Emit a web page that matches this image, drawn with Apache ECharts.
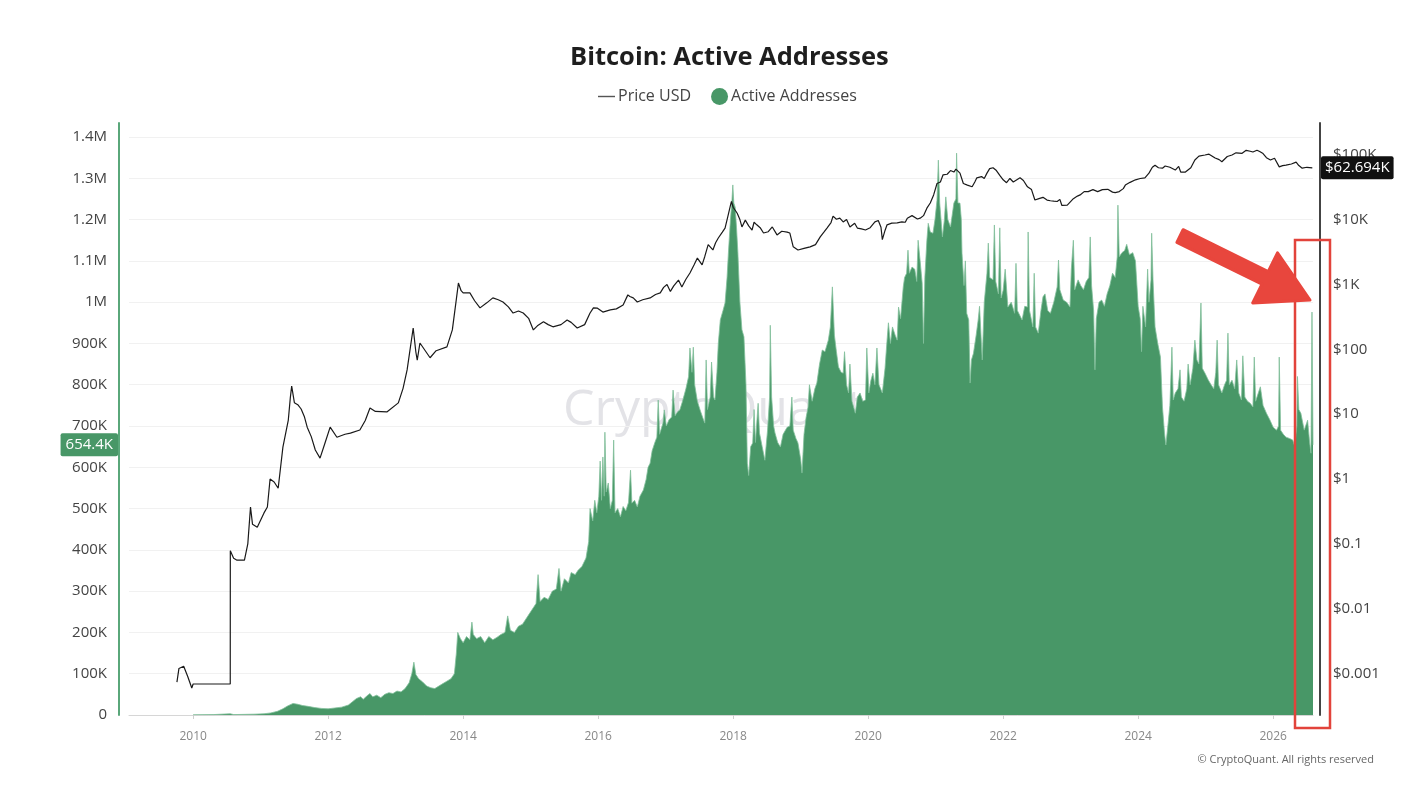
<!DOCTYPE html>
<html>
<head>
<meta charset="utf-8">
<script src="https://cdn.jsdelivr.net/npm/echarts@6/dist/echarts.min.js"></script>
<style>
html,body{margin:0;padding:0;background:#fff;}
#chart{width:1414px;height:790px;}
</style>
</head>
<body>
<div id="chart"></div>
<script>
// ---- data (decimal year, value) ----
const activeAddresses = [
[2010.0,500],[2010.3,1000],[2010.55,3000],[2010.6,1000],[2010.9,2000],[2011.05,3000],[2011.15,5000],[2011.25,9000],[2011.33,15000],[2011.4,22000],[2011.48,28000],[2011.55,26000],[2011.62,23000],[2011.7,21000],[2011.8,18000],[2011.9,16000],[2012.0,15000],[2012.1,17000],[2012.2,19000],[2012.3,24000],[2012.36,32000],[2012.42,40000],[2012.48,44000],[2012.52,38000],[2012.58,47000],[2012.62,52000],[2012.66,44000],[2012.72,48000],[2012.78,42000],[2012.84,50000],[2012.9,54000],[2012.96,52000],[2013.02,58000],[2013.08,56000],[2013.14,64000],[2013.2,78000],[2013.24,100000],[2013.27,128000],[2013.3,98000],[2013.34,88000],[2013.4,80000],[2013.46,70000],[2013.52,66000],[2013.58,64000],[2013.64,70000],[2013.7,76000],[2013.76,82000],[2013.82,88000],[2013.87,100000],[2013.9,150000],[2013.92,200000],[2013.96,185000],[2014.0,175000],[2014.05,190000],[2014.1,182000],[2014.13,225000],[2014.15,195000],[2014.2,185000],[2014.26,190000],[2014.32,175000],[2014.38,190000],[2014.44,182000],[2014.5,188000],[2014.56,195000],[2014.62,200000],[2014.66,240000],[2014.7,205000],[2014.76,200000],[2014.82,215000],[2014.88,220000],[2014.94,235000],[2015.0,250000],[2015.04,260000],[2015.08,270000],[2015.11,340000],[2015.14,275000],[2015.2,285000],[2015.26,280000],[2015.32,300000],[2015.38,305000],[2015.42,355000],[2015.45,300000],[2015.5,330000],[2015.56,320000],[2015.6,345000],[2015.66,340000],[2015.7,350000],[2015.76,360000],[2015.82,380000],[2015.86,420000],
[2015.88,500000],[2015.92,470000],[2015.95,520000],[2015.98,490000],[2016.01,530000],[2016.03,615000],[2016.05,520000],[2016.07,625000],[2016.09,530000],[2016.10,685000],[2016.12,540000],[2016.15,562000],[2016.18,500000],[2016.21,520000],[2016.23,666000],[2016.25,490000],[2016.29,500000],[2016.33,480000],[2016.37,505000],[2016.41,495000],[2016.45,515000],[2016.48,593000],[2016.50,513000],[2016.54,520000],[2016.58,504000],[2016.62,530000],[2016.67,545000],[2016.71,570000],[2016.74,600000],[2016.77,610000],[2016.80,640000],[2016.84,660000],[2016.87,673000],[2016.89,763000],[2016.91,680000],[2016.96,707000],[2016.98,739000],[2017.01,700000],[2017.05,715000],[2017.09,722000],[2017.11,787000],[2017.14,725000],[2017.18,735000],[2017.21,739000],[2017.25,760000],[2017.30,790000],[2017.34,820000],[2017.36,889000],[2017.39,830000],[2017.41,891000],[2017.43,800000],[2017.47,760000],[2017.51,739000],[2017.55,720000],[2017.58,707000],[2017.60,860000],[2017.62,740000],[2017.66,770000],[2017.68,855000],[2017.71,770000],[2017.73,763000],[2017.76,830000],[2017.78,900000],[2017.81,957000],[2017.85,980000],[2017.88,998000],[2017.91,1060000],[2017.93,1120000],[2017.96,1200000],[2017.98,1240000],[2017.995,1284000],[2018.01,1240000],[2018.03,1230000],[2018.05,1180000],[2018.07,1120000],[2018.10,1000000],[2018.13,933000],[2018.16,916000],[2018.19,800000],[2018.21,610000],[2018.23,580000],[2018.26,650000],[2018.29,659000],[2018.31,740000],[2018.33,660000],[2018.37,755000],[2018.39,683000],[2018.43,650000],[2018.47,617000],[2018.51,690000],[2018.54,770000],[2018.55,944000],[2018.57,770000],[2018.60,700000],[2018.62,683000],[2018.66,660000],[2018.70,649000],[2018.74,680000],[2018.80,697000],[2018.84,700000],[2018.87,770000],[2018.89,690000],[2018.93,670000],[2018.96,659000],[2019.00,620000],[2019.02,586000],[2019.05,680000],[2019.08,720000],[2019.11,746000],[2019.13,800000],[2019.17,760000],[2019.21,790000],[2019.24,804000],[2019.28,850000],[2019.32,884000],[2019.36,880000],[2019.41,908000],[2019.44,940000],[2019.47,1037000],[2019.50,920000],[2019.53,880000],[2019.56,843000],[2019.60,830000],[2019.63,828000],[2019.65,880000],[2019.68,800000],[2019.71,780000],[2019.73,850000],[2019.76,760000],[2019.81,731000],[2019.84,770000],[2019.88,780000],[2019.92,760000],[2019.96,763000],[2019.98,889000],[2020.01,780000],[2020.04,810000],[2020.07,828000],[2020.10,800000],[2020.13,889000],[2020.16,800000],[2020.21,780000],[2020.25,840000],[2020.28,908000],[2020.30,950000],[2020.33,900000],[2020.36,940000],[2020.40,920000],[2020.43,908000],[2020.45,988000],[2020.48,960000],[2020.52,1037000],[2020.54,1060000],[2020.57,1070000],[2020.59,1126000],[2020.61,1070000],[2020.65,1085000],[2020.69,1080000],[2020.72,1050000],[2020.74,1150000],[2020.77,1100000],[2020.80,1046000],[2020.82,900000],[2020.84,1060000],[2020.87,1150000],[2020.89,1191000],[2020.92,1170000],[2020.96,1167000],[2020.99,1200000],[2021.02,1247000],[2021.04,1344000],[2021.06,1240000],[2021.10,1158000],[2021.13,1200000],[2021.15,1255000],[2021.18,1200000],[2021.22,1182000],[2021.27,1240000],[2021.30,1250000],[2021.31,1361000],[2021.33,1240000],[2021.36,1240000],[2021.38,1200000],[2021.39,1119000],[2021.42,1040000],[2021.44,1100000],[2021.46,973000],[2021.49,957000],[2021.51,804000],[2021.53,860000],[2021.56,876000],[2021.60,920000],[2021.63,957000],[2021.65,990000],[2021.69,860000],[2021.72,1000000],[2021.76,1070000],[2021.78,1143000],[2021.80,1060000],[2021.85,1054000],[2021.87,1187000],[2021.89,1050000],[2021.93,1020000],[2021.95,1180000],[2021.97,1010000],[2022.00,1029000],[2022.03,1080000],[2022.07,988000],[2022.12,1000000],[2022.17,973000],[2022.19,1094000],[2022.21,980000],[2022.28,957000],[2022.32,990000],[2022.36,988000],[2022.37,1170000],[2022.39,980000],[2022.44,940000],[2022.46,1070000],[2022.48,940000],[2022.52,925000],[2022.56,980000],[2022.59,1013000],[2022.62,1020000],[2022.66,980000],[2022.70,973000],[2022.75,1000000],[2022.80,1037000],[2022.82,1102000],[2022.84,1030000],[2022.89,1005000],[2022.94,1000000],[2022.99,988000],[2023.01,1080000],[2023.04,1150000],[2023.06,1030000],[2023.11,1054000],[2023.15,1040000],[2023.19,1030000],[2023.23,1050000],[2023.27,1060000],[2023.29,1158000],[2023.31,1040000],[2023.34,980000],[2023.36,836000],[2023.38,960000],[2023.42,1000000],[2023.46,1005000],[2023.50,990000],[2023.54,1020000],[2023.58,1040000],[2023.62,1070000],[2023.66,1060000],[2023.69,1110000],[2023.70,1235000],[2023.72,1110000],[2023.76,1120000],[2023.80,1125000],[2023.83,1140000],[2023.87,1115000],[2023.92,1120000],[2023.96,1100000],[2024.00,990000],[2024.03,960000],[2024.05,880000],[2024.07,990000],[2024.11,940000],[2024.14,1080000],[2024.16,1000000],[2024.19,1054000],[2024.20,1167000],[2024.22,1054000],[2024.25,940000],[2024.29,900000],[2024.33,867000],[2024.36,746000],[2024.39,683000],[2024.41,654000],[2024.44,700000],[2024.47,750000],[2024.50,891000],[2024.52,763000],[2024.55,780000],[2024.59,790000],[2024.62,836000],[2024.64,770000],[2024.68,760000],[2024.72,790000],[2024.74,850000],[2024.77,800000],[2024.81,840000],[2024.84,908000],[2024.87,860000],[2024.90,850000],[2024.93,998000],[2024.95,840000],[2024.99,828000],[2025.04,811000],[2025.08,800000],[2025.12,790000],[2025.15,830000],[2025.17,908000],[2025.19,800000],[2025.24,780000],[2025.28,800000],[2025.31,811000],[2025.33,925000],[2025.35,800000],[2025.39,811000],[2025.43,790000],[2025.46,860000],[2025.49,780000],[2025.53,763000],[2025.55,870000],[2025.58,770000],[2025.62,760000],[2025.66,755000],[2025.70,746000],[2025.72,867000],[2025.74,760000],[2025.78,780000],[2025.81,795000],[2025.85,750000],[2025.90,731000],[2025.95,715000],[2026.00,697000],[2026.05,690000],[2026.08,700000],[2026.09,867000],[2026.11,690000],[2026.15,680000],[2026.19,673000],[2026.24,670000],[2026.29,666000],[2026.32,650000],[2026.35,700000],[2026.36,820000],[2026.38,740000],[2026.41,731000],[2026.46,690000],[2026.51,714000],[2026.54,660000],[2026.56,634000],[2026.575,976000],[2026.59,654400]
];

const priceUSD = [
[2009.76,0.00074],[2009.79,0.0012],[2009.86,0.0013],[2009.92,0.0009],[2009.98,0.0006],[2010.0,0.00069],[2010.55,0.00069],[2010.551,0.078],[2010.6,0.06],[2010.65,0.056],[2010.76,0.056],[2010.81,0.10],[2010.85,0.37],[2010.88,0.2],[2010.95,0.18],[2011.05,0.3],[2011.1,0.37],[2011.14,1.0],[2011.2,0.9],[2011.26,0.72],[2011.33,3.1],[2011.41,8.1],[2011.44,18],[2011.46,27],[2011.5,15],[2011.55,14],[2011.6,12],[2011.65,9],[2011.69,6.3],[2011.75,4.5],[2011.81,2.8],[2011.88,2.1],[2011.95,3.5],[2012.03,6.3],[2012.13,4.4],[2012.25,4.9],[2012.33,5.1],[2012.47,5.7],[2012.55,8],[2012.62,12.4],[2012.7,11],[2012.87,10.8],[2013.04,14.9],[2013.11,25],[2013.17,48],[2013.26,213],[2013.3,90],[2013.32,68],[2013.36,125],[2013.51,74],[2013.6,95],[2013.76,109],[2013.84,199],[2013.9,600],[2013.93,1050],[2013.97,800],[2014.0,740],[2014.1,740],[2014.17,560],[2014.25,435],[2014.35,520],[2014.44,620],[2014.52,580],[2014.59,535],[2014.67,450],[2014.74,362],[2014.82,390],[2014.89,362],[2014.97,300],[2015.04,199],[2015.1,230],[2015.19,265],[2015.26,240],[2015.33,222],[2015.45,240],[2015.54,283],[2015.6,260],[2015.69,213],[2015.8,240],
[2015.88,362],[2015.93,435],[2015.99,430],[2016.07,375],[2016.18,405],[2016.27,420],[2016.37,480],[2016.44,690],[2016.47,650],[2016.52,620],[2016.58,535],[2016.66,580],[2016.77,620],[2016.85,700],[2016.92,740],[2016.97,900],[2017.02,1000],[2017.07,780],[2017.12,950],[2017.19,1170],[2017.24,910],[2017.3,1200],[2017.36,1500],[2017.42,2000],[2017.47,2550],[2017.54,2000],[2017.58,2700],[2017.63,4100],[2017.7,3400],[2017.74,4400],[2017.78,5200],[2017.84,6400],[2017.88,7400],[2017.92,11000],[2017.96,16500],[2017.975,19000],[2018.0,15500],[2018.06,12500],[2018.1,10000],[2018.13,7700],[2018.18,9800],[2018.23,8000],[2018.28,6900],[2018.31,9100],[2018.35,8300],[2018.4,7500],[2018.45,6200],[2018.52,6500],[2018.58,7700],[2018.65,5800],[2018.72,6600],[2018.8,6400],[2018.84,6200],[2018.89,3800],[2018.96,3400],[2019.05,3600],[2019.14,3800],[2019.22,4100],[2019.29,5400],[2019.35,6500],[2019.39,7400],[2019.45,9000],[2019.48,11300],[2019.53,10100],[2019.58,10500],[2019.63,9200],[2019.68,10000],[2019.73,7700],[2019.8,8800],[2019.84,7400],[2019.9,7200],[2019.96,6900],[2020.03,7500],[2020.1,9200],[2020.15,9700],[2020.19,7600],[2020.21,4900],[2020.25,6800],[2020.28,8300],[2020.35,8800],[2020.43,8900],[2020.5,9200],[2020.55,9100],[2020.58,10500],[2020.65,11500],[2020.73,10200],[2020.77,10500],[2020.82,11500],[2020.87,15000],[2020.92,18000],[2020.97,24000],[2021.02,36000],[2021.07,38000],[2021.11,49000],[2021.17,50000],[2021.22,57000],[2021.27,54000],[2021.3,60000],[2021.36,52000],[2021.41,36000],[2021.47,34000],[2021.54,32000],[2021.58,38000],[2021.61,44000],[2021.68,46000],[2021.72,43000],[2021.76,52000],[2021.8,61000],[2021.85,63000],[2021.9,57000],[2021.95,48000],[2022.0,41000],[2022.05,37000],[2022.1,43000],[2022.15,38000],[2022.25,44000],[2022.3,40000],[2022.36,32000],[2022.42,29000],[2022.47,20000],[2022.53,21000],[2022.59,22000],[2022.65,20000],[2022.7,19500],[2022.75,19200],[2022.8,19000],[2022.84,20500],[2022.87,16500],[2022.95,16700],[2023.04,21000],[2023.1,23000],[2023.14,24000],[2023.2,27000],[2023.26,27000],[2023.33,29000],[2023.4,27000],[2023.47,29000],[2023.55,29300],[2023.62,26500],[2023.66,26000],[2023.72,27000],[2023.78,30000],[2023.81,34000],[2023.88,37500],[2023.96,41000],[2024.03,43000],[2024.1,44000],[2024.16,52000],[2024.21,64000],[2024.25,69000],[2024.3,63000],[2024.36,62000],[2024.4,67000],[2024.47,64000],[2024.55,58000],[2024.6,66000],[2024.63,54000],[2024.7,54000],[2024.78,63000],[2024.84,83000],[2024.9,95000],[2024.99,99000],[2025.05,102000],[2025.14,89000],[2025.2,84000],[2025.24,78000],[2025.32,94000],[2025.39,99000],[2025.45,107000],[2025.54,105000],[2025.6,117000],[2025.66,113000],[2025.7,110000],[2025.76,117000],[2025.8,112000],[2025.85,104000],[2025.9,90000],[2025.96,83000],[2026.02,88000],[2026.09,65000],[2026.14,68000],[2026.19,69000],[2026.27,72000],[2026.34,77000],[2026.38,68000],[2026.43,62000],[2026.5,64000],[2026.58,62694]
];

const yearTicks = [2010,2012,2014,2016,2018,2020,2022,2024,2026];
const activeTicks = [0,100000,200000,300000,400000,500000,600000,700000,800000,900000,1000000,1100000,1200000,1300000,1400000];
const priceTicks = [0.001,0.01,0.1,1,10,100,1000,10000,100000];
const priceTickLabels = ['$0.001','$0.01','$0.1','$1','$10','$100','$1K','$10K','$100K'];
const lastActive = 654400;
const lastPrice = 62694;

const FONT = "'Open Sans', 'Noto Sans', sans-serif";
const GREEN = '#489767';

const chart = echarts.init(document.getElementById('chart'));

const priceLogTicks = priceTicks.map(v => Math.log10(v));

function fmtActive(v) {
  if (v === 0) return '0';
  if (v >= 1000000) return (Math.round(v / 100000) / 10) + 'M';
  return Math.round(v / 1000) + 'K';
}

chart.setOption({
  backgroundColor: '#fff',
  animation: false,
  textStyle: { fontFamily: FONT },
  title: {
    text: 'Bitcoin: Active Addresses',
    left: 565,
    top: 40,
    textStyle: { fontSize: 25.5, fontWeight: 'bold', color: '#1e1e1e', fontFamily: FONT }
  },
  legend: {
    top: 83,
    left: 593,
    itemGap: 20,
    itemWidth: 17,
    itemHeight: 17,
    textStyle: { fontSize: 16, color: '#444', fontFamily: FONT, padding: [0, 0, 0, -2] },
    data: [
      { name: 'Price USD', icon: 'path://M0,0 H24 V2 H0 Z', itemStyle: { color: '#555' } },
      { name: 'Active Addresses', icon: 'circle' }
    ]
  },
  grid: { left: 129, right: 101, top: 123, bottom: 75 },
  xAxis: {
    type: 'value',
    min: 2009.05,
    max: 2026.59,
    axisLine: { show: true, lineStyle: { color: '#d6d6d6', width: 1 } },
    axisTick: { show: true, customValues: yearTicks, length: 4, lineStyle: { color: '#cfcfcf' } },
    axisLabel: { customValues: yearTicks, color: '#888', fontSize: 12, margin: 16, formatter: v => String(Math.round(v)) },
    splitLine: { show: false }
  },
  yAxis: [
    {
      type: 'value',
      position: 'left',
      min: 0,
      max: 1434000,
      offset: 10,
      axisLine: { show: true, lineStyle: { color: '#5aa77a', width: 2 } },
      axisTick: { show: false, customValues: activeTicks },
      axisLabel: { customValues: activeTicks, color: '#444', fontSize: 15, margin: 12, formatter: fmtActive },
      splitLine: { show: true, lineStyle: { color: '#f1f1f1', width: 1 } },
      axisPointer: {
        show: true,
        value: lastActive,
        status: 'show',
        snap: false,
        triggerTooltip: false,
        lineStyle: { opacity: 0 },
        label: {
          show: true,
          backgroundColor: GREEN,
          color: '#fff',
          fontSize: 15,
          padding: [4, 5, 4, 5],
          margin: 1,
          borderRadius: 2,
          formatter: () => (lastActive / 1000).toFixed(1) + 'K'
        },
        handle: { show: false }
      }
    },
    {
      type: 'value',
      position: 'right',
      min: -3.639,
      max: 5.489,
      offset: 7,
      axisLine: { show: true, lineStyle: { color: '#444', width: 2 } },
      axisTick: { show: false, customValues: priceLogTicks },
      axisLabel: {
        customValues: priceLogTicks,
        color: '#444',
        fontSize: 15,
        margin: 13,
        formatter: v => {
          const i = priceLogTicks.findIndex(t => Math.abs(t - v) < 1e-6);
          return i >= 0 ? priceTickLabels[i] : '';
        }
      },
      splitLine: { show: false },
      axisPointer: {
        show: true,
        value: Math.log10(lastPrice),
        status: 'show',
        snap: false,
        triggerTooltip: false,
        lineStyle: { opacity: 0 },
        label: {
          show: true,
          backgroundColor: '#111',
          color: '#fff',
          fontSize: 15,
          padding: [4, 4, 4, 4],
          margin: 1,
          borderRadius: 2,
          formatter: () => '$' + (lastPrice / 1000).toFixed(3) + 'K'
        },
        handle: { show: false }
      }
    }
  ],
  series: [
    {
      name: 'Active Addresses',
      type: 'line',
      yAxisIndex: 0,
      symbol: 'none',
      data: activeAddresses,
      itemStyle: { color: GREEN },
      lineStyle: { color: '#82bf9a', width: 0.8 },
      areaStyle: { color: GREEN, opacity: 1 },
      z: 2
    },
    {
      name: 'Price USD',
      type: 'line',
      yAxisIndex: 1,
      symbol: 'none',
      data: priceUSD.map(d => [d[0], Math.log10(d[1])]),
      itemStyle: { color: '#333' },
      lineStyle: { color: '#1a1a1a', width: 1.2 },
      z: 3
    }
  ],
  graphic: [
    {
      type: 'text', left: 563, top: 386, z: 0, silent: true,
      style: { text: 'CryptoQuant', fontSize: 50, fontWeight: 'normal', fill: 'rgba(200,200,208,0.5)', fontFamily: FONT }
    },
    {
      type: 'text', right: 40, top: 754, z: 50, silent: true,
      style: { text: '© CryptoQuant. All rights reserved', fontSize: 11, fill: '#666', fontFamily: FONT }
    },
    {
      type: 'rect', z: 60, silent: true,
      shape: { x: 1295, y: 240, width: 35, height: 488 },
      style: { fill: 'none', stroke: '#e2433b', lineWidth: 2.5 }
    },
    {
      type: 'polygon', z: 60, silent: true,
      shape: { points: [[1176.9,242.3],[1183.1,229.7],[1268.2,271.6],[1277.5,252.8],[1310,300],[1252.7,303.0],[1262.0,284.2]] },
      style: { fill: '#e8463d', stroke: '#e8463d', lineWidth: 3, lineJoin: 'round' }
    }
  ]
});
</script>
</body>
</html>
